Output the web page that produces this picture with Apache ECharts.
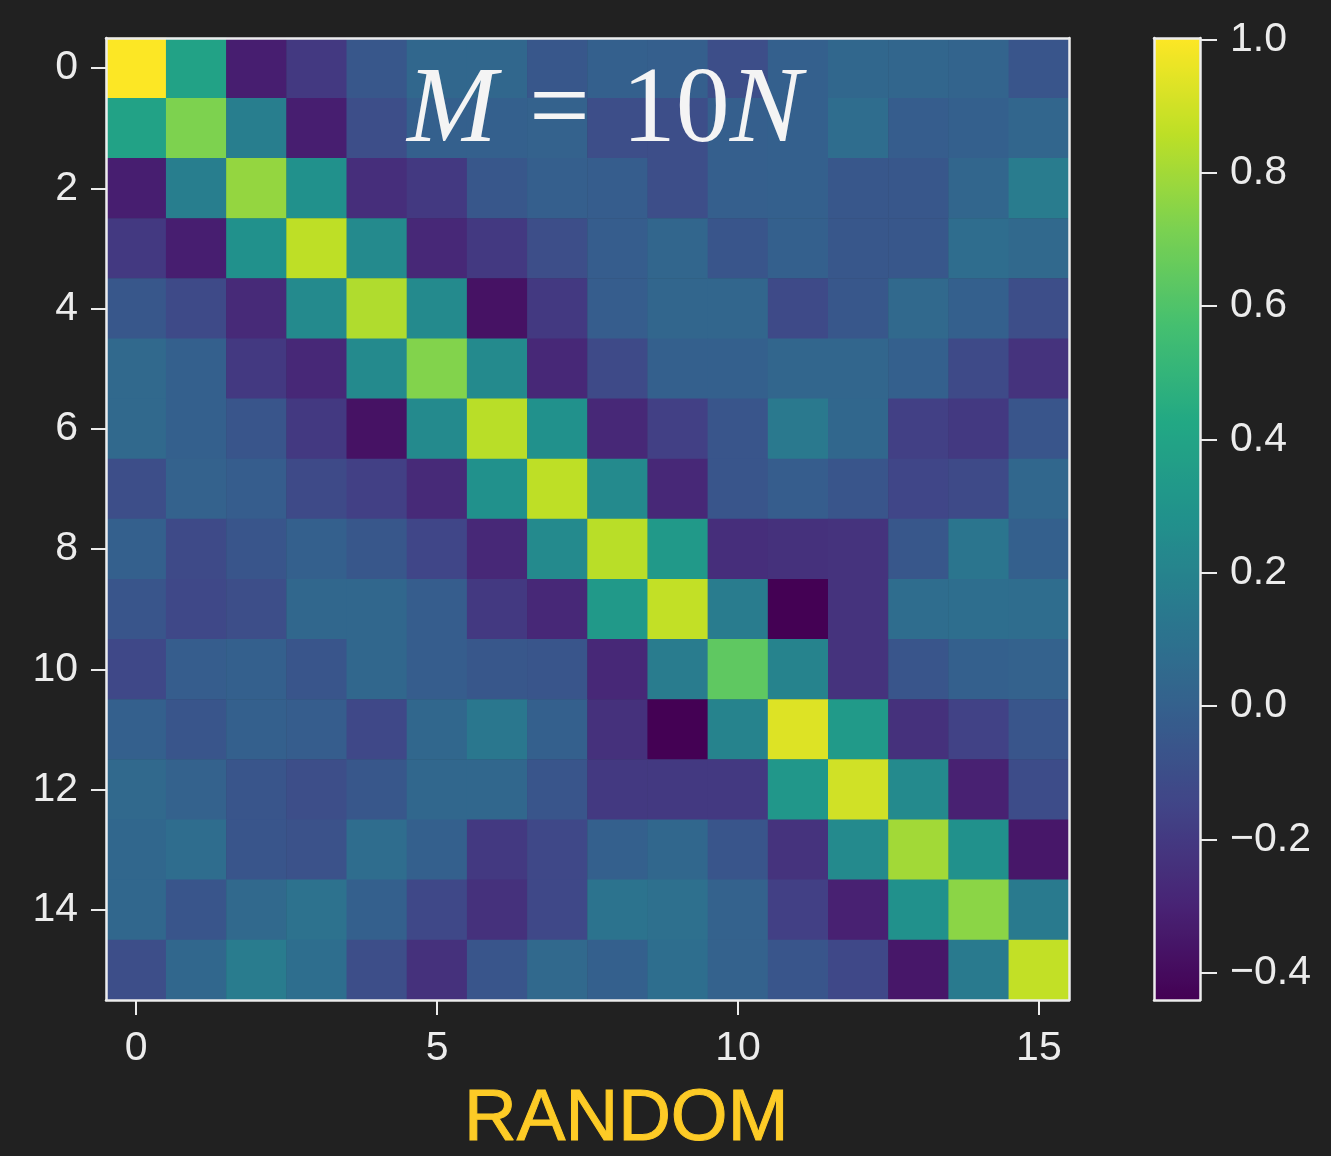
<!DOCTYPE html>
<html>
<head>
<meta charset="utf-8">
<script src="https://cdn.jsdelivr.net/npm/echarts@6/dist/echarts.min.js"></script>
<style>
html,body{margin:0;padding:0;background:#212121;}
#chart{width:1331px;height:1156px;}
</style>
</head>
<body>
<div id="chart"></div>
<script>
// ---- data ----
const indices = ['0','1','2','3','4','5','6','7','8','9','10','11','12','13','14','15'];
const xTickLabels = ['0','5','10','15'];
const yTickLabels = ['0','2','4','6','8','10','12','14'];
const colorbarTicks = [-0.4, -0.2, 0.0, 0.2, 0.4, 0.6, 0.8, 1.0];
const valueMin = -0.441;
const valueMax = 1.002;

const row0  = [ 1.00, 0.39,-0.32,-0.20,-0.05, 0.04, 0.04,-0.05, 0.00,-0.01,-0.10, 0.00, 0.04, 0.03, 0.02,-0.06];
const row1  = [ 0.39, 0.72, 0.17,-0.32,-0.10, 0.00, 0.00, 0.01,-0.10,-0.10,-0.01, 0.00, 0.07,-0.02, 0.00, 0.03];
const row2  = [-0.32, 0.17, 0.77, 0.28,-0.25,-0.20,-0.05,-0.01,-0.02,-0.10,-0.01, 0.00,-0.05,-0.05, 0.03, 0.16];
const row3  = [-0.20,-0.32, 0.28, 0.86, 0.24,-0.28,-0.20,-0.10,-0.02, 0.03,-0.06, 0.00,-0.05,-0.05, 0.07, 0.05];
const row4  = [-0.05,-0.12,-0.27, 0.24, 0.83, 0.24,-0.37,-0.20,-0.02, 0.03, 0.03,-0.12,-0.05, 0.05, 0.00,-0.10];
const row5  = [ 0.05, 0.00,-0.20,-0.28, 0.24, 0.73, 0.24,-0.28,-0.12, 0.00, 0.00, 0.03, 0.03, 0.00,-0.12,-0.23];
const row6  = [ 0.05, 0.00,-0.06,-0.20,-0.37, 0.24, 0.85, 0.28,-0.28,-0.17,-0.06, 0.14, 0.04,-0.17,-0.20,-0.06];
const row7  = [-0.10, 0.01,-0.02,-0.12,-0.17,-0.27, 0.28, 0.86, 0.24,-0.28,-0.06,-0.02,-0.06,-0.14,-0.12, 0.04];
const row8  = [ 0.00,-0.12,-0.06, 0.00,-0.05,-0.14,-0.28, 0.24, 0.85, 0.33,-0.25,-0.24,-0.23,-0.05, 0.12, 0.00];
const row9  = [-0.06,-0.13,-0.10, 0.04, 0.04,-0.02,-0.20,-0.28, 0.33, 0.87, 0.16,-0.44,-0.23, 0.07, 0.08, 0.07];
const row10 = [-0.13,-0.02, 0.00,-0.06, 0.04,-0.02,-0.05,-0.06,-0.28, 0.16, 0.64, 0.20,-0.23,-0.06, 0.00, 0.01];
const row11 = [ 0.00,-0.06, 0.00,-0.02,-0.13, 0.04, 0.13, 0.00,-0.24,-0.44, 0.20, 0.93, 0.34,-0.24,-0.16,-0.06];
const row12 = [ 0.05, 0.01,-0.06,-0.10,-0.05, 0.04, 0.04,-0.06,-0.20,-0.20,-0.20, 0.32, 0.90, 0.24,-0.31,-0.11];
const row13 = [ 0.04, 0.07,-0.06,-0.08, 0.07, 0.00,-0.20,-0.13, 0.00, 0.04,-0.06,-0.23, 0.24, 0.80, 0.28,-0.35];
const row14 = [ 0.04,-0.06, 0.05, 0.10, 0.00,-0.13,-0.24,-0.13, 0.11, 0.09, 0.01,-0.17,-0.31, 0.28, 0.75, 0.15];
const row15 = [-0.10, 0.04, 0.16, 0.08,-0.10,-0.24,-0.06, 0.05, 0.00, 0.08, 0.01,-0.06,-0.13,-0.35, 0.15, 0.87];
const matrixRows = [row0,row1,row2,row3,row4,row5,row6,row7,row8,row9,row10,row11,row12,row13,row14,row15];

const viridis = ['#440154','#482475','#414487','#355f8d','#2a788e','#21918c','#22a884','#44bf70','#7ad151','#bddf26','#fde725'];

// ---- build ----
const heatData = [];
matrixRows.forEach((row, r) => row.forEach((v, c) => heatData.push([c, r, v])));

const fg = '#ececec';
const labelFont = {color: fg, fontSize: 41, fontFamily: 'Liberation Sans, Arial, sans-serif'};
const minus = s => s.replace('-', '\u2212');
const serif = 'Liberation Serif, DejaVu Serif, serif';

const chart = echarts.init(document.getElementById('chart'));
chart.setOption({
  backgroundColor: '#212121',
  animation: false,
  title: [
    {
      text: '{i|M}{eq|=}{n|10}{i|N}',
      left: 402, top: 54,
      textStyle: {
        color: '#f4f4f4', fontSize: 108, fontFamily: serif, fontWeight: 'normal',
        rich: {
          i: {fontStyle: 'italic', fontSize: 108, fontFamily: serif, color: '#f4f4f4'},
          eq: {fontSize: 108, fontFamily: serif, color: '#f4f4f4', padding: [0, 32, 0, 32]},
          n: {fontSize: 108, fontFamily: serif, color: '#f4f4f4'}
        }
      }
    },
    {
      text: 'RANDOM',
      left: 459, top: 1078,
      textStyle: {
        color: '#fdcb26', fontSize: 73, fontFamily: 'Liberation Sans, Arial, sans-serif', fontWeight: 'normal',
        textBorderColor: '#fdcb26', textBorderWidth: 1
      }
    }
  ],
  grid: [
    {left: 106, top: 38, width: 963, height: 962, show: false},
    {left: 1154, top: 38, width: 46, height: 962, show: false}
  ],
  xAxis: [
    {
      type: 'category', data: indices, gridIndex: 0, position: 'bottom', z: 5,
      axisLine: {show: true, lineStyle: {color: fg, width: 2.5}},
      axisTick: {show: true, alignWithLabel: true, length: 15, interval: i => i % 5 === 0, lineStyle: {color: fg, width: 2}},
      axisLabel: Object.assign({margin: 28, interval: i => i % 5 === 0, formatter: v => xTickLabels.includes(v) ? v : ''}, labelFont),
      splitLine: {show: false}
    },
    {
      type: 'category', data: indices, gridIndex: 0, position: 'top', z: 5,
      axisLine: {show: true, lineStyle: {color: fg, width: 2.5}},
      axisTick: {show: false}, axisLabel: {show: false}, splitLine: {show: false}
    },
    {
      type: 'value', gridIndex: 1, min: 0, max: 1, position: 'bottom', z: 6,
      axisLine: {show: true, onZero: false, lineStyle: {color: fg, width: 2.5}},
      axisTick: {show: false}, axisLabel: {show: false}, splitLine: {show: false}
    },
    {
      type: 'value', gridIndex: 1, min: 0, max: 1, position: 'top', z: 6,
      axisLine: {show: true, onZero: false, lineStyle: {color: fg, width: 2.5}},
      axisTick: {show: false}, axisLabel: {show: false}, splitLine: {show: false}
    }
  ],
  yAxis: [
    {
      type: 'category', data: indices, inverse: true, gridIndex: 0, position: 'left', z: 5,
      axisLine: {show: true, lineStyle: {color: fg, width: 2.5}},
      axisTick: {show: true, alignWithLabel: true, length: 15, interval: i => i % 2 === 0, lineStyle: {color: fg, width: 2}},
      axisLabel: Object.assign({margin: 28, interval: i => i % 2 === 0, formatter: v => yTickLabels.includes(v) ? v : ''}, labelFont),
      splitLine: {show: false}
    },
    {
      type: 'category', data: indices, inverse: true, gridIndex: 0, position: 'right', z: 5,
      axisLine: {show: true, lineStyle: {color: fg, width: 2.5}},
      axisTick: {show: false}, axisLabel: {show: false}, splitLine: {show: false}
    },
    {
      type: 'value', gridIndex: 1, min: valueMin, max: valueMax, position: 'right', z: 6,
      axisLine: {show: true, onZero: false, lineStyle: {color: fg, width: 2.5}},
      axisTick: {show: true, length: 17, customValues: colorbarTicks, lineStyle: {color: fg, width: 2}},
      axisLabel: Object.assign({margin: 30, customValues: colorbarTicks, formatter: v => minus(v.toFixed(1))}, labelFont),
      splitLine: {show: false}
    },
    {
      type: 'value', gridIndex: 1, min: valueMin, max: valueMax, position: 'left', z: 6,
      axisLine: {show: true, onZero: false, lineStyle: {color: fg, width: 2.5}},
      axisTick: {show: false}, axisLabel: {show: false}, splitLine: {show: false}
    }
  ],
  visualMap: {
    type: 'continuous', min: valueMin, max: valueMax, seriesIndex: 0,
    calculable: false, realtime: false, hoverLink: false,
    left: 1154, top: 38, itemWidth: 46, itemHeight: 962, padding: 0,
    text: null, showLabel: false,
    inRange: {color: viridis}
  },
  series: [{
    type: 'heatmap', xAxisIndex: 0, yAxisIndex: 0, data: heatData,
    itemStyle: {borderWidth: 0},
    emphasis: {disabled: true},
    progressive: 0
  }]
});
</script>
</body>
</html>
